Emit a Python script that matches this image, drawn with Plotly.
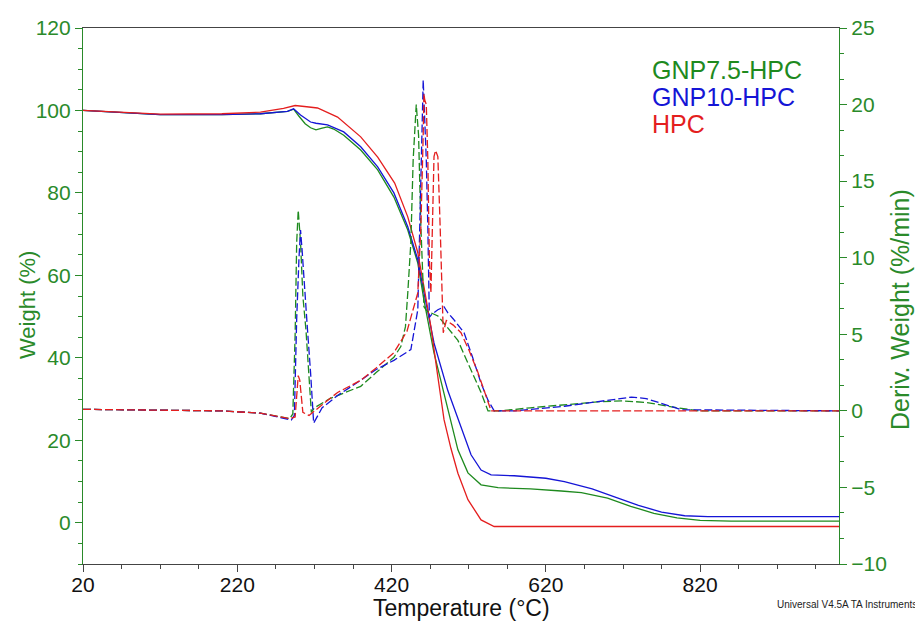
import plotly.graph_objects as go

# ---------------- data ----------------
# Weight (%) curves (solid, left axis)
t_w_gnp75 = [20, 60, 120, 200, 250, 285, 293, 300, 308, 315, 322, 330, 337, 345, 358, 380, 402, 423, 441, 454, 462, 475, 488, 500, 506, 519, 536, 558, 600, 640, 666, 700, 730, 760, 790, 820, 860, 1000]
w_gnp75 = [100, 99.6, 99.0, 99.0, 99.2, 99.8, 100.3, 98.6, 96.8, 95.8, 95.3, 95.7, 96.0, 95.5, 94.0, 90.4, 85.6, 79, 71, 63, 54, 41.2, 31.5, 21.8, 17.7, 12.1, 9.2, 8.5, 8.2, 7.7, 7.3, 6.0, 4.0, 2.3, 1.2, 0.6, 0.4, 0.4]

t_w_gnp10 = [20, 60, 120, 200, 250, 285, 293, 302, 315, 322, 337, 358, 380, 402, 423, 441, 454, 462, 475, 493, 510, 523, 536, 549, 579, 620, 644, 680, 709, 740, 770, 800, 830, 1000]
w_gnp10 = [100, 99.6, 99.0, 99.0, 99.2, 99.8, 100.4, 98.9, 97.2, 96.9, 96.5, 94.8, 91.2, 86.3, 80, 71.8, 63.8, 55.8, 43.6, 32, 23.5, 16.5, 12.8, 11.6, 11.4, 10.8, 10.0, 8.2, 6.3, 4.2, 2.6, 1.7, 1.5, 1.5]

t_w_hpc = [20, 60, 120, 200, 250, 280, 295, 310, 324, 350, 380, 402, 424, 441, 454, 462, 471, 480, 488, 497, 506, 519, 536, 553, 1000]
w_hpc = [100, 99.6, 99.1, 99.2, 99.6, 100.5, 101.2, 100.9, 100.6, 98.4, 93.6, 88.7, 82.4, 74.2, 65.5, 57.2, 47.5, 35.4, 25, 18, 12, 5.6, 0.7, -0.9, -0.9]

# Derivative weight (%/min) curves (dashed, right axis)
t_d_gnp75 = [20, 100, 200, 250, 288, 292, 295, 297, 299, 302, 305, 309, 313, 316, 320, 340, 360, 380, 400, 423, 432, 438, 441, 445, 448, 450, 452, 455, 458, 462, 466, 471, 480, 490, 506, 520, 536, 545, 560, 600, 650, 690, 720, 750, 783, 818, 1000]
d_gnp75 = [0.1, 0.05, 0, -0.15, -0.5, -0.2, 5, 11, 13.1, 11, 7.5, 5.3, 2.5, -0.1, 0.2, 0.8, 1.2, 1.6, 2.5, 3.5, 4.2, 5.5, 7.7, 11, 16.4, 18.5, 20, 18, 12, 6.8, 6.5, 6.4, 6.2, 5.6, 4.6, 3.0, 1.2, 0, 0, 0.2, 0.4, 0.6, 0.65, 0.55, 0.26, 0, 0]

t_d_gnp10 = [20, 100, 200, 250, 290, 294, 297, 300, 302, 304, 307, 311, 315, 319, 330, 350, 380, 400, 423, 445, 454, 458, 461, 463, 465, 467, 469, 472, 480, 488, 493, 500, 514, 525, 536, 545, 553, 580, 620, 644, 680, 700, 720, 731, 750, 774, 796, 1000]
d_gnp10 = [0.1, 0.05, 0, -0.15, -0.6, -0.3, 6, 10, 11.8, 10.5, 8, 5.3, 2.5, -0.8, 0.2, 1.0, 2.0, 2.7, 3.3, 4.0, 6.6, 14.2, 21.6, 19, 16.4, 12, 6.1, 6.3, 6.6, 6.8, 6.4, 6.0, 5.1, 3.5, 1.8, 0.7, 0, 0, 0.2, 0.3, 0.55, 0.7, 0.85, 0.9, 0.8, 0.4, 0.07, 0]

t_d_hpc = [20, 100, 200, 250, 288, 295, 297, 299, 301, 303, 305, 309, 313, 330, 350, 380, 400, 423, 440, 454, 458, 461, 462, 463, 465, 467, 469, 471, 473, 475, 477, 480, 483, 485, 487, 491, 500, 510, 520, 532, 540, 549, 1000]
d_hpc = [0.1, 0.05, 0, -0.15, -0.5, -0.4, 1.0, 2.3, 2.0, 1.0, -0.1, -0.2, -0.3, 0.4, 1.2, 2.0, 2.8, 3.8, 5.2, 7.7, 12, 18, 20.7, 20.3, 20, 16.4, 9.9, 7.7, 12, 16.6, 17.0, 16.6, 12, 8, 5.1, 5.9, 5.6, 5.1, 4, 2.5, 1.3, 0, 0]

series_names = ["GNP7.5-HPC", "GNP10-HPC", "HPC"]

# ---------------- style ----------------
GREEN = "#1e8a1e"
BLUE = "#1515d6"
RED = "#e41e1e"
AXIS_GREEN = "#2a8a2a"
FONT = "Liberation Sans, Arial, sans-serif"

# the page body has an 8px default margin; compensate so the plot area lands
# at x 83..839, y 28..564 of the 923x626 window
OFF = 8
W, H = 923 - OFF, 626 - OFF
L, R, T, B = 83 - OFF, 84, 28 - OFF, 62
pw, ph = W - L - R, H - T - B


def px(x):
    return (x - OFF - L) / pw


def py(y):
    return 1 - (y - OFF - T) / ph


fig = go.Figure()

weights = [(t_w_gnp75, w_gnp75, GREEN), (t_w_gnp10, w_gnp10, BLUE), (t_w_hpc, w_hpc, RED)]
derivs = [(t_d_gnp75, d_gnp75, GREEN), (t_d_gnp10, d_gnp10, BLUE), (t_d_hpc, d_hpc, RED)]

for name, (t, d, c) in zip(series_names, derivs):
    fig.add_trace(go.Scatter(x=t, y=d, mode="lines", name=name + " deriv", yaxis="y2",
                             line=dict(color=c, width=1.3, dash="8px,3px"), showlegend=False))
for name, (t, w, c) in zip(series_names, weights):
    fig.add_trace(go.Scatter(x=t, y=w, mode="lines", name=name,
                             line=dict(color=c, width=1.3), showlegend=False))

fig.update_layout(
    width=W, height=H,
    margin=dict(l=L, r=R, t=T, b=B, autoexpand=False),
    paper_bgcolor="white", plot_bgcolor="white",
    font=dict(family=FONT),
    xaxis=dict(
        range=[20, 1000], tick0=20, dtick=200, automargin=False,
        showgrid=False, zeroline=False,
        showline=True, linecolor="#444444", linewidth=1.2, mirror=True,
        ticks="outside", ticklen=7, tickcolor="#444444",
        minor=dict(dtick=50, tick0=20, ticks="outside", ticklen=4, tickcolor="#444444"),
        tickfont=dict(size=21, color="#111111"),
        ticklabelstandoff=-5,
    ),
    yaxis=dict(
        range=[-10, 120], tick0=0, dtick=20, automargin=False,
        showgrid=False, zeroline=False,
        showline=True, linecolor=AXIS_GREEN, linewidth=1.2,
        ticks="outside", ticklen=7, tickcolor=AXIS_GREEN,
        minor=dict(dtick=5, tick0=0, ticks="outside", ticklen=4, tickcolor=AXIS_GREEN),
        tickfont=dict(size=21, color=AXIS_GREEN),
    ),
    yaxis2=dict(
        range=[-10, 25], tick0=0, dtick=5, overlaying="y", side="right", automargin=False,
        showgrid=False, zeroline=False,
        showline=True, linecolor=AXIS_GREEN, linewidth=1.2,
        ticks="outside", ticklen=7, tickcolor=AXIS_GREEN,
        minor=dict(dtick=5 / 3, tick0=0, ticks="outside", ticklen=4, tickcolor=AXIS_GREEN),
        tickfont=dict(size=21, color=AXIS_GREEN),
    ),
)

# legend as coloured texts
for i, (name, c) in enumerate(zip(series_names, [GREEN, BLUE, RED])):
    fig.add_annotation(x=px(650), y=py(70 + 27 * i), xref="paper", yref="paper", text=name,
                       showarrow=False, xanchor="left", yanchor="middle",
                       font=dict(size=25, color=c))

# axis titles
fig.add_annotation(x=px(461), y=py(608), xref="paper", yref="paper", text="Temperature (°C)",
                   showarrow=False, xanchor="center", yanchor="middle",
                   font=dict(size=23, color="#111111"))
fig.add_annotation(x=px(27), y=py(305), xref="paper", yref="paper", text="Weight (%)",
                   showarrow=False, xanchor="center", yanchor="middle", textangle=-90,
                   font=dict(size=22, color=AXIS_GREEN))
fig.add_annotation(x=px(900), y=py(310), xref="paper", yref="paper", text="Deriv. Weight (%/min)",
                   showarrow=False, xanchor="center", yanchor="middle", textangle=-90,
                   font=dict(size=25, color=AXIS_GREEN))
fig.add_annotation(x=px(919), y=py(604), xref="paper", yref="paper", text="Universal V4.5A TA Instruments",
                   showarrow=False, xanchor="right", yanchor="middle",
                   font=dict(size=10, color="#222222"))

fig.write_html("out.html")
